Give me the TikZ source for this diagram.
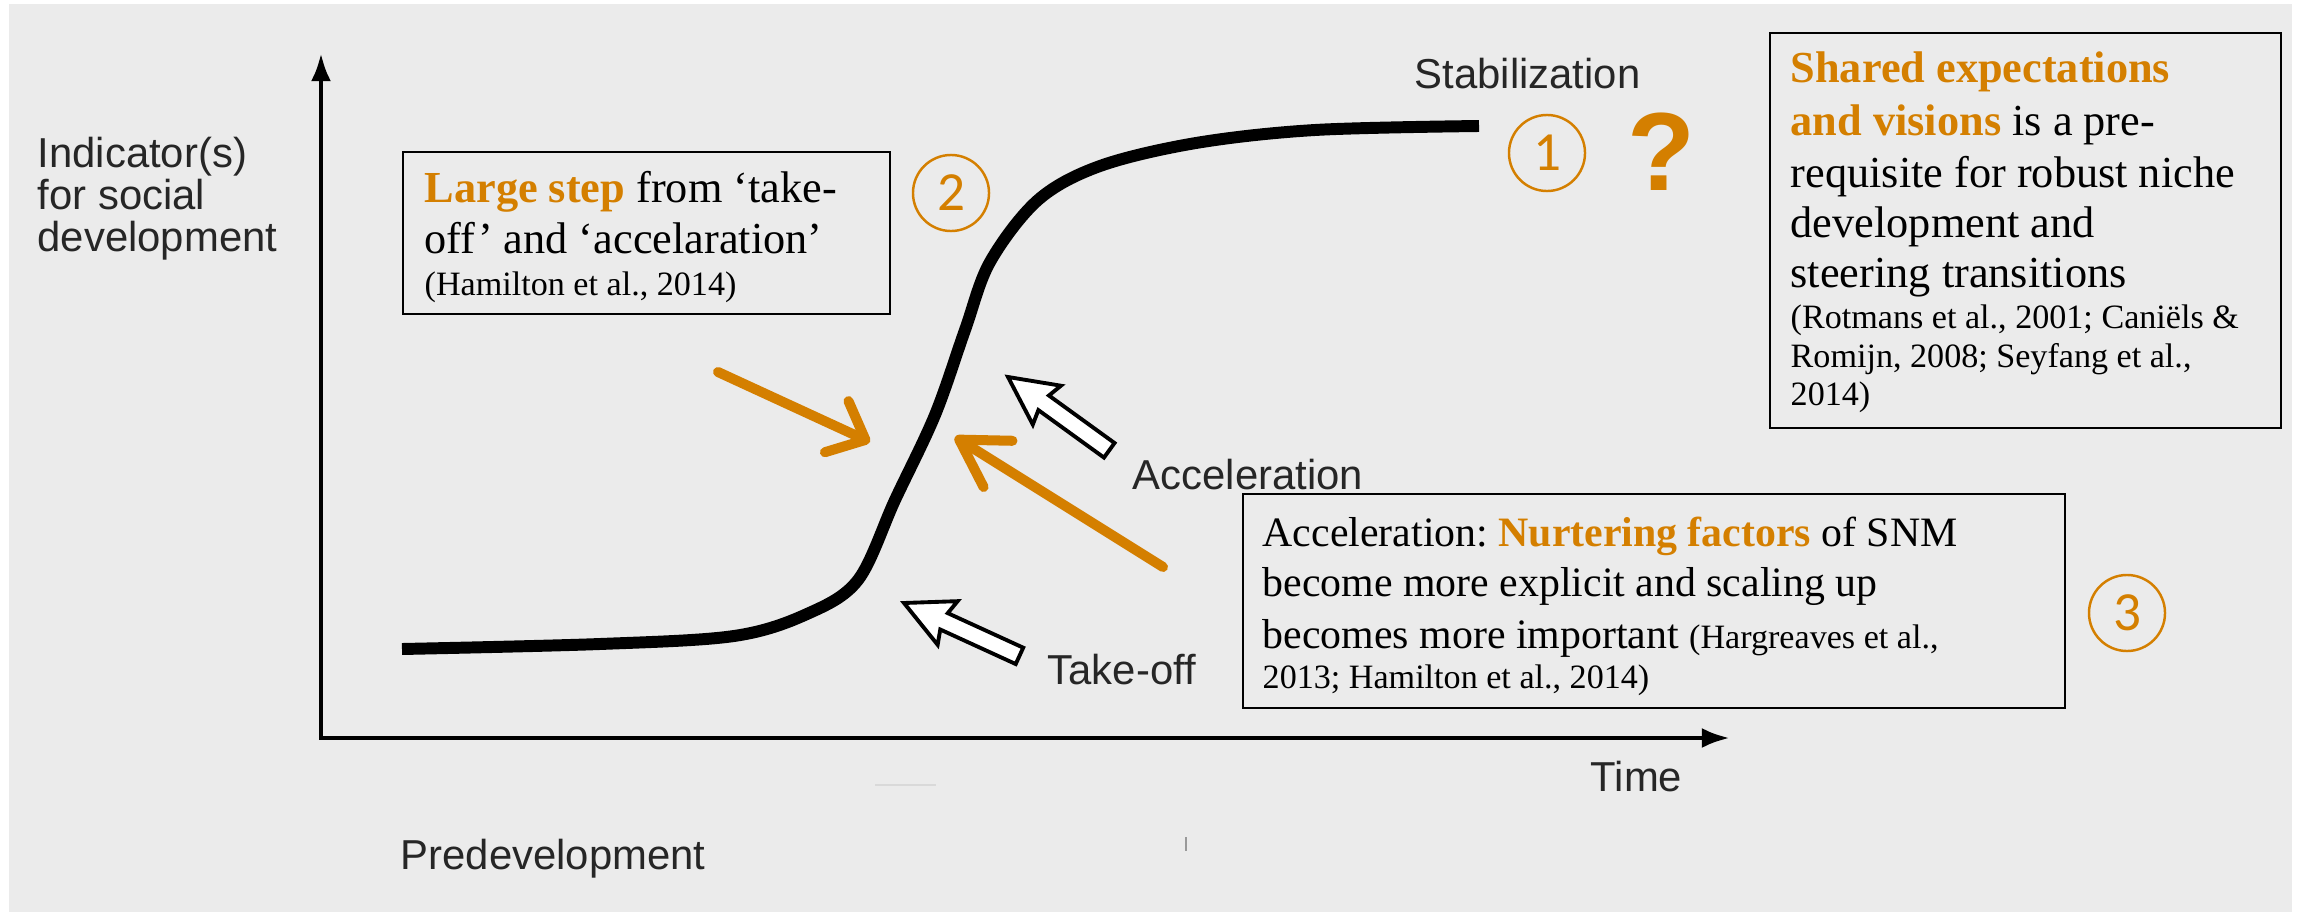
\documentclass[tikz,border=0pt]{standalone}
\usepackage{fontspec}
\setmainfont{Liberation Serif}
\setsansfont{Liberation Sans}
\newfontfamily\digitfont{Carlito}
\usetikzlibrary{arrows.meta,fit}
\definecolor{snmorange}{RGB}{212,127,0}
\definecolor{panelgrey}{RGB}{235,235,235}
\newcommand{\orng}[1]{\textcolor{snmorange}{\textbf{#1}}}
\newcommand{\refsmall}{\fontsize{9.7}{11}\selectfont}
\frenchspacing
\tikzset{
  infobox/.style={draw, line width=0.7pt, inner sep=0pt},
  boxtext/.style={anchor=base west, inner sep=0pt, font=\fontsize{11.9}{14.5}\selectfont},
  widetext/.style={boxtext, font=\fontsize{12.6}{14.5}\selectfont},
  axislabel/.style={anchor=base west, inner sep=0pt, text=black!85,
    font=\sffamily\fontsize{11.9}{11.95}\selectfont},
  stagecircle/.style={circle, draw=snmorange, line width=0.7pt, text=snmorange,
    minimum size=0.76cm, inner sep=0pt, font=\digitfont\fontsize{15.7}{16}\selectfont},
  pointer/.style={draw=snmorange, line width=2.85pt, line cap=round, line join=round},
  hollowarrow/.style={draw=black, line width=1.1pt, fill=white, line join=miter}
}
\begin{document}
\begin{tikzpicture}[x=0.01cm,y=-0.01cm]
  \useasboundingbox (0,0) rectangle (2305,912);
  \fill[panelgrey] (9,4) rectangle (2292,912);
  \draw[black!15, line width=0.5pt] (875,785) -- (936,785);
  \draw[black!40, line width=0.3pt] (1186,837) -- (1186,851);

  % axes
  \coordinate (ytop) at (321,53);
  \coordinate (origin) at (321,738);
  \coordinate (xend) at (1730,738);
  \draw[line width=1.4pt, line join=miter,
        {Latex[length=8pt,width=5.7pt]}-{Latex[length=8pt,width=5.7pt]}]
    (ytop) -- (origin) -- (xend);
  \node[axislabel, anchor=north west, align=left] (ylab) at (37,136)
    {Indicator(s)\\for social\\development};
  \node[axislabel] (stab) at (1414,88) {Stabilization};
  \node[axislabel] (accl) at (1132,489) {Acceleration};
  \node[axislabel] (take) at (1047,684) {Take-off};
  \node[axislabel] (time) at (1590,791) {Time};
  \node[axislabel] (pred) at (400,869) {Predevelopment};

  % s-curve
  \draw[line width=3.4pt] plot[smooth, tension=0.55] coordinates {
    (402,649) (600,644) (734,636) (807,614) (858,580) (895,500)
    (935,415) (965,330) (990,262) (1038,200) (1100,166) (1196,143)
    (1315,130) (1479,126)};

  \foreach \px/\py/\a/\l in {904/603/155.4/127, 1008/377/144.1/125}
    \draw[hollowarrow, shift={(\px,\py)}, rotate=\a]
      (0,0) -- (-48,24) -- (-44,9) -- (-\l,9) -- (-\l,-9) -- (-44,-9) -- (-48,-24) -- cycle;

  \coordinate (la) at (718,372);
  \coordinate (lb) at (870,442);
  \coordinate (ra) at (1163,567);
  \coordinate (rb) at (955,437);
  \draw[pointer, -{Straight Barb[length=9pt,width=16pt,round]}] (la) -- (lb);
  \draw[pointer, -{Straight Barb[length=13pt,width=15.5pt,round]}] (ra) -- (rb);

  \node[stagecircle] (s1) at (1547,153) {1};
  \node[stagecircle] (s2) at (951,193) {2};
  \node[stagecircle] (s3) at (2127,613) {3};
  \node[text=snmorange, inner sep=0pt,
        font=\sffamily\bfseries\fontsize{31.6}{32}\selectfont] (qmark) at (1661,152) {?};

  % text boxes
  \node[infobox, fit={(403,152) (890,314)}] (box2) {};
  \node[infobox, fit={(1770,33) (2281,428)}] (box1) {};
  \node[infobox, fit={(1243,494) (2065,708)}] (box3) {};
  \foreach \y/\t [count=\i] in {
      202/{\orng{Large step} from ‘take-},
      253/{off’ and ‘accelaration’},
      295/{\refsmall (Hamilton et al., 2014)}}
    \node[widetext] (two-\i) at (424,\y) {\t};
  \foreach \y/\t [count=\i] in {
      83/{\orng{Shared expectations}},
      135/{\orng{and visions} is a pre-},
      187/{requisite for robust niche},
      237/{development and},
      287/{steering transitions},
      328/{\refsmall (Rotmans et al., 2001; Caniëls \&},
      367/{\refsmall Romijn, 2008; Seyfang et al.,},
      405/{\refsmall 2014)}}
    \node[widetext] (one-\i) at (1790,\y) {\t};
  \foreach \y/\t [count=\i] in {
      546/{Acceleration: \orng{Nurtering factors} of SNM},
      596/{become more explicit and scaling up},
      648/{becomes more important {\refsmall (Hargreaves et al.,}},
      688/{\refsmall 2013; Hamilton et al., 2014)}}
    \node[boxtext] (three-\i) at (1262,\y) {\t};
\end{tikzpicture}
\end{document}
